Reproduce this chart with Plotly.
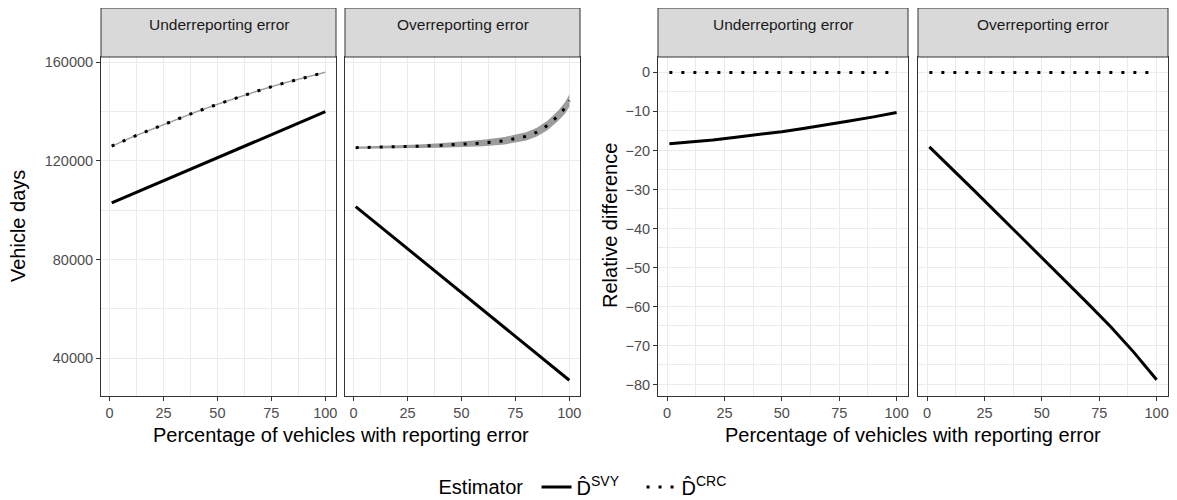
import plotly.graph_objects as go

# ---------------- data ----------------
pct = [1, 10, 20, 30, 40, 50, 60, 70, 80, 90, 100]
under_svy_days = [103000, 106400, 110100, 113900, 117600, 121300, 125100, 128800, 132500, 136300, 140000]
under_crc_days = [126000, 129500, 133000, 136600, 139900, 143000, 146000, 148800, 151400, 153800, 156000]
under_crc_lo = [125700, 129200, 132700, 136300, 139600, 142700, 145700, 148500, 151100, 153500, 155700]
under_crc_hi = [126300, 129800, 133300, 136900, 140200, 143300, 146300, 149100, 151700, 154100, 156300]

over_svy_days = [101500, 95100, 88000, 80850, 73700, 66600, 59500, 52350, 45200, 38100, 31000]
pct_over = [1, 10, 20, 30, 40, 50, 60, 70, 75, 80, 85, 90, 95, 98, 100]
over_crc_days = [125400, 125500, 125700, 126000, 126300, 126700, 127300, 128200, 129000, 130000, 131700, 134500, 138500, 141500, 144500]
over_crc_lo = [125000, 125000, 125100, 125300, 125400, 125600, 126000, 126700, 127400, 128300, 129900, 132600, 136400, 139200, 142000]
over_crc_hi = [125800, 126000, 126300, 126700, 127200, 127800, 128600, 129700, 130600, 131700, 133500, 136400, 140600, 143800, 147000]

under_svy_rel = [-18.3, -17.9, -17.3, -16.6, -15.9, -15.2, -14.3, -13.4, -12.4, -11.4, -10.3]
over_svy_rel = [-19.1, -24.2, -30.0, -35.8, -41.6, -47.4, -53.3, -59.2, -65.2, -71.7, -78.8]
crc_rel = [0, 0, 0, 0, 0, 0, 0, 0, 0, 0, 0]

facets = ["Underreporting error", "Overreporting error"]
x_ticks = [0, 25, 50, 75, 100]
y_ticks_days = [40000, 80000, 120000, 160000]
y_ticks_rel = [0, -10, -20, -30, -40, -50, -60, -70, -80]

# ---------------- style ----------------
FONT = "Liberation Sans, Arial, sans-serif"
BORDER = "#333333"
GRID = "#ebebeb"
STRIP = "#d9d9d9"
LINE_W = 3
DOT = "3px,9px"
RIBBON = "rgba(145,145,145,0.9)"
TICK_SIZE = 14.5
STRIP_SIZE = 15.5
TITLE_SIZE = 20

# page body has an 8px margin: figure occupies the window minus that offset
OFF = 8
W, H = 1177 - OFF, 500 - OFF

def fx(px):
    return (px - OFF) / W

def fy(py):
    return 1 - (py - OFF) / H

plot_top, plot_bot = 57, 396
strip_top = 8
ydom = [fy(plot_bot), fy(plot_top)]
panels_px = [(101, 336), (345, 580), (658, 908), (918, 1168)]
xdoms = [[fx(a), fx(b)] for a, b in panels_px]

fig = go.Figure()

def add_ribbon(xs, lo, hi, xa, ya):
    fig.add_trace(go.Scatter(x=xs + xs[::-1], y=hi + lo[::-1], fill="toself",
                             fillcolor=RIBBON, line=dict(width=0), mode="lines",
                             hoverinfo="skip", showlegend=False, xaxis=xa, yaxis=ya))

def add_line(xs, ys, xa, ya, dotted, legend=False):
    name = "D\u0302<sup>CRC</sup>" if dotted else "D\u0302<sup>SVY</sup>"
    fig.add_trace(go.Scatter(x=xs, y=ys, mode="lines", name=name,
                             line=dict(color="black", width=LINE_W, dash=DOT if dotted else "solid"),
                             showlegend=legend, legendgroup=name, xaxis=xa, yaxis=ya))

# Panel 1: underreporting days
add_ribbon(pct, under_crc_lo, under_crc_hi, "x", "y")
add_line(pct, under_svy_days, "x", "y", False, legend=True)
add_line(pct, under_crc_days, "x", "y", True, legend=True)
# Panel 2: overreporting days
add_ribbon(pct_over, over_crc_lo, over_crc_hi, "x2", "y2")
add_line(pct, over_svy_days, "x2", "y2", False)
add_line(pct_over, over_crc_days, "x2", "y2", True)
# Panel 3: underreporting relative
add_line(pct, under_svy_rel, "x3", "y3", False)
add_line(pct, crc_rel, "x3", "y3", True)
# Panel 4: overreporting relative
add_line(pct, over_svy_rel, "x4", "y4", False)
add_line(pct, crc_rel, "x4", "y4", True)

tickfont = dict(family=FONT, size=TICK_SIZE, color="#4d4d4d")
xrange = [-3.95, 104.95]

layout = dict(
    width=W, height=H,
    margin=dict(l=0, r=0, t=0, b=0, autoexpand=False),
    paper_bgcolor="white", plot_bgcolor="white",
    font=dict(family=FONT, color="black"),
    showlegend=True,
    legend=dict(orientation="h", x=fx(592), xanchor="center", y=fy(487), yanchor="middle",
                title=dict(text="Estimator ", font=dict(size=TITLE_SIZE, family=FONT)),
                font=dict(size=TITLE_SIZE, family=FONT), itemwidth=30, entrywidth=60,
                bgcolor="rgba(0,0,0,0)"),
)

for i in range(4):
    xn = "xaxis" if i == 0 else f"xaxis{i+1}"
    yn = "yaxis" if i == 0 else f"yaxis{i+1}"
    anchor_y = "y" if i == 0 else f"y{i+1}"
    anchor_x = "x" if i == 0 else f"x{i+1}"
    layout[xn] = dict(domain=xdoms[i], range=xrange, anchor=anchor_y, automargin=False,
                      tickvals=x_ticks, ticks="outside", ticklen=4, tickcolor=BORDER,
                      tickfont=tickfont, showgrid=True, gridcolor=GRID, gridwidth=1.1,
                      minor=dict(showgrid=True, gridcolor=GRID, gridwidth=0.55, dtick=12.5, tick0=0),
                      showline=True, linecolor=BORDER, linewidth=1, mirror=True, zeroline=False)
    days = i < 2
    layout[yn] = dict(domain=ydom, anchor=anchor_x, automargin=False,
                      range=[24600, 162200] if days else [-82.95, 3.95],
                      tickvals=y_ticks_days if days else y_ticks_rel, tickformat="d",
                      showticklabels=(i % 2 == 0), ticks="outside" if i % 2 == 0 else "",
                      ticklen=4, tickcolor=BORDER, tickfont=tickfont,
                      showgrid=True, gridcolor=GRID, gridwidth=1.1,
                      minor=dict(showgrid=True, gridcolor=GRID, gridwidth=0.55,
                                 dtick=20000 if days else 5, tick0=0),
                      showline=True, linecolor=BORDER, linewidth=1, mirror=True, zeroline=False)

fig.update_layout(**layout)

# strips
for i in range(4):
    x0, x1 = xdoms[i]
    fig.add_shape(type="rect", xref="paper", yref="paper", x0=x0, x1=x1,
                  y0=fy(plot_top), y1=fy(strip_top),
                  fillcolor=STRIP, line=dict(color=BORDER, width=1), layer="above")
    fig.add_annotation(xref="paper", yref="paper", x=(x0 + x1) / 2, y=fy(25),
                       text=facets[i % 2], showarrow=False, xanchor="center", yanchor="middle",
                       font=dict(family=FONT, size=STRIP_SIZE, color="#1a1a1a"))

# axis titles
title_font = dict(family=FONT, size=TITLE_SIZE, color="black")
fig.add_annotation(xref="paper", yref="paper", x=fx((101 + 580) / 2), y=fy(435),
                   text="Percentage of vehicles with reporting error", showarrow=False,
                   xanchor="center", yanchor="middle", font=title_font)
fig.add_annotation(xref="paper", yref="paper", x=fx((658 + 1168) / 2), y=fy(435),
                   text="Percentage of vehicles with reporting error", showarrow=False,
                   xanchor="center", yanchor="middle", font=title_font)
fig.add_annotation(xref="paper", yref="paper", x=fx(18), y=fy(226),
                   text="Vehicle days", showarrow=False, textangle=-90,
                   xanchor="center", yanchor="middle", font=title_font)
fig.add_annotation(xref="paper", yref="paper", x=fx(610), y=fy(226),
                   text="Relative difference", showarrow=False, textangle=-90,
                   xanchor="center", yanchor="middle", font=title_font)

fig.write_html("out.html")
